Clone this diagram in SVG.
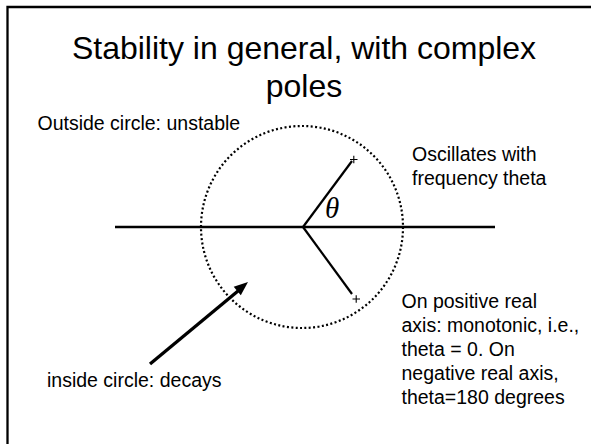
<svg xmlns="http://www.w3.org/2000/svg" width="591" height="444" viewBox="0 0 591 444">
<style>
text{font-family:"Liberation Sans",Arial,sans-serif;fill:#000}
.t{font-size:32px}
.s{font-size:19.5px}
.ln{stroke:#000;fill:none}
</style>
<rect x="0" y="0" width="591" height="444" fill="#fff"/>
<path class="ln" d="M7.5,444 V7 H591" stroke-width="2.3"/>
<g id="title">
<text class="t" x="304" y="59" text-anchor="middle">Stability in general, with complex</text>
<text class="t" x="304" y="97" text-anchor="middle">poles</text>
</g>
<g id="circle">
<circle cx="302" cy="227" r="101" class="ln" stroke-width="2.2" stroke-dasharray="2 2.4"/>
</g>
<g id="axis">
<line x1="115" y1="227" x2="495" y2="227" class="ln" stroke-width="2.5"/>
</g>
<g id="rays">
<line x1="303" y1="227" x2="352" y2="161" class="ln" stroke-width="2.2"/>
<line x1="303" y1="227" x2="352" y2="294" class="ln" stroke-width="2.2"/>
<path class="ln" stroke-width="1.1" d="M350,159.5 H357.5 M353.8,155.8 V163.2 M352.5,299 H360 M356.2,295.3 V302.7"/>
<text x="325" y="218" style="font-family:'Liberation Serif','Times New Roman',serif;font-style:italic;font-size:29px">θ</text>
</g>
<g id="connectors">
<line x1="150" y1="364" x2="238" y2="291" class="ln" stroke-width="3.3"/>
<polygon points="248,282 240.8,295.2 233.7,286.8" fill="#000"/>
</g>
<g id="labels">
<text class="s" x="37.5" y="130">Outside circle: unstable</text>
<text class="s" x="412" y="161">Oscillates with</text>
<text class="s" x="412" y="185">frequency theta</text>
<text class="s" x="401.5" y="308">On positive real</text>
<text class="s" x="401.5" y="332">axis: monotonic, i.e.,</text>
<text class="s" x="401.5" y="356">theta = 0. On</text>
<text class="s" x="401.5" y="380">negative real axis,</text>
<text class="s" x="401.5" y="404">theta=180 degrees</text>
<text class="s" x="47" y="387">inside circle: decays</text>
</g>
</svg>
